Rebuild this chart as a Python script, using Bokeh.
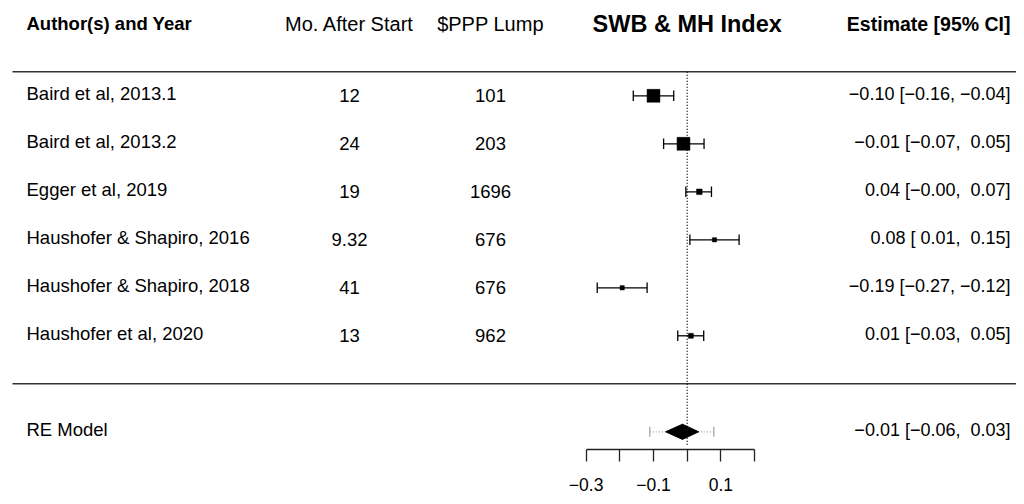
import numpy as np
from bokeh.plotting import figure
from bokeh.models import Range1d, FixedTicker, ColumnDataSource
from bokeh.core.properties import value
from bokeh.embed import file_html
from bokeh.resources import INLINE

# ---------------- data ----------------
studies = ["Baird et al, 2013.1", "Baird et al, 2013.2", "Egger et al, 2019",
           "Haushofer & Shapiro, 2016", "Haushofer & Shapiro, 2018",
           "Haushofer et al, 2020"]
months_after_start = [12, 24, 19, 9.32, 41, 13]
ppp_lump = [101, 203, 1696, 676, 676, 962]
estimate = [-0.10, -0.011, 0.036, 0.081, -0.193, 0.011]
ci_lower = [-0.16, -0.07, -0.004, 0.008, -0.267, -0.028]
ci_upper = [-0.04, 0.05, 0.072, 0.154, -0.119, 0.049]
weights = [3.0, 3.0, 1.3, 1.0, 1.0, 1.15]

re_label = "RE Model"
re_estimate = -0.014
re_ci_lower = -0.064
re_ci_upper = 0.034
re_pi_lower = -0.111
re_pi_upper = 0.079

header_author = "Author(s) and Year"
header_months = "Mo. After Start"
header_lump = "$PPP Lump"
header_title = "SWB & MH Index"
header_estimate = "Estimate [95% CI]"

tick_values = [-0.3, -0.2, -0.1, 0.0, 0.1, 0.2]
tick_labels = ["\u22120.3", "", "\u22120.1", "", "0.1", ""]

# ---------------- layout ----------------
W, H = 1016, 496
ZERO_PX = 686.7          # x of 0 inside the figure
UNIT_PX = 337.0          # pixels per 1.0 of effect size
ROW_PX = 48.0
AXIS_PX = 449            # y of the x-axis line
ROW0_PX = 383.3          # y (from top) of row 0


def px_x(px):
    return (px - ZERO_PX) / UNIT_PX


def px_rows(px):
    return px / ROW_PX


x_lo, x_hi = px_x(0), px_x(W)
y_hi = ROW0_PX / ROW_PX
y_lo = (ROW0_PX - H) / ROW_PX
axis_row = (ROW0_PX - AXIS_PX) / ROW_PX

FONT = value("Liberation Sans")


def fmt(v):
    return f"{v:5.2f}".replace("-", "\u2212").replace(" ", "\u00a0")


k = len(studies)
rows = np.arange(k, 0, -1).astype(float)
re_row = -1.0

p = figure(width=W, height=H, output_backend="svg", toolbar_location=None,
           x_range=Range1d(x_lo, x_hi), y_range=Range1d(y_lo, y_hi),
           y_axis_location=None, min_border_left=0, min_border_right=0,
           min_border_top=0, min_border_bottom=0)
p.outline_line_color = None
p.grid.visible = False
p.background_fill_color = "white"
p.border_fill_color = "white"

# x axis, drawn at a fixed location inside the frame
ax = p.xaxis[0]
ax.fixed_location = axis_row
ax.ticker = FixedTicker(ticks=tick_values, minor_ticks=[])
ax.major_label_overrides = {t: l for t, l in zip(tick_values, tick_labels)}
ax.bounds = (min(tick_values), max(tick_values))
ax.major_tick_out = 12
ax.major_tick_in = 0
ax.minor_tick_out = 0
ax.minor_tick_in = 0
ax.axis_line_width = 1.3
ax.major_tick_line_width = 1.3
ax.axis_line_color = "#222222"
ax.major_tick_line_color = "#222222"
ax.major_label_text_font = "Liberation Sans"
ax.major_label_text_font_size = "17.5px"
ax.major_label_text_color = "black"
ax.major_label_standoff = 16

# horizontal rules
rule_x0 = px_x(12)
p.segment(x0=[rule_x0, rule_x0], y0=[k + 0.5, 0.0], x1=[x_hi, x_hi], y1=[k + 0.5, 0.0],
          line_color="#333333", line_width=1.4)

# reference line at 0
p.segment(x0=[0], y0=[k + 0.5], x1=[0], y1=[axis_row + px_rows(3.5)],
          line_color="black", line_width=1.3, line_dash="1 2")

# study CIs
src = ColumnDataSource(dict(
    est=estimate, lo=ci_lower, hi=ci_upper, row=rows,
    cap_b=rows - px_rows(5.3), cap_t=rows + px_rows(5.3),
    size=[w * 4.3 for w in weights]))
p.segment(x0="lo", y0="row", x1="hi", y1="row", source=src, line_color="black", line_width=1.3)
p.segment(x0="lo", y0="cap_b", x1="lo", y1="cap_t", source=src, line_color="black", line_width=1.3)
p.segment(x0="hi", y0="cap_b", x1="hi", y1="cap_t", source=src, line_color="black", line_width=1.3)
p.scatter(x="est", y="row", size="size", marker="square", source=src,
          fill_color="black", line_color="black", line_width=0.5)

# RE model: prediction interval + diamond
pi_h = px_rows(5.0)
p.segment(x0=[re_pi_lower], y0=[re_row], x1=[re_pi_upper], y1=[re_row],
          line_color="#a0a0a0", line_width=1.2, line_dash="1 2")
p.segment(x0=[re_pi_lower, re_pi_upper], y0=[re_row - pi_h] * 2,
          x1=[re_pi_lower, re_pi_upper], y1=[re_row + pi_h] * 2,
          line_color="#a0a0a0", line_width=1.2)
dh = px_rows(7.6)
p.patch(x=[re_ci_lower, re_estimate, re_ci_upper, re_estimate],
        y=[re_row, re_row + dh, re_row, re_row - dh],
        fill_color="black", line_color="black", line_width=1)

# headers
hy = k + 1.5
p.text(x=[px_x(26)], y=[hy], text=[header_author], text_font=FONT,
       text_font_size=value("18.5px"), text_font_style="bold",
       text_align="left", text_baseline="middle", text_color="black")
p.text(x=[px_x(349), px_x(490)], y=[hy, hy], text=[header_months, header_lump],
       text_font=FONT, text_font_size=value("20px"),
       text_align="center", text_baseline="middle", text_color="black")
p.text(x=[0], y=[hy], text=[header_title], text_font=FONT,
       text_font_size=value("23.5px"), text_font_style="bold",
       text_align="center", text_baseline="middle", text_color="black")
p.text(x=[px_x(1010)], y=[hy], text=[header_estimate], text_font=FONT,
       text_font_size=value("19.5px"), text_font_style="bold",
       text_align="right", text_baseline="middle", text_color="black")

# row texts
name_rows = list(rows + px_rows(2.0)) + [re_row + px_rows(2.0)]
p.text(x=[px_x(26)] * (k + 1), y=name_rows, text=studies + [re_label],
       text_font=FONT, text_font_size=value("18.5px"),
       text_align="left", text_baseline="middle", text_color="black")
num_rows = list(rows)
p.text(x=[px_x(349)] * k, y=num_rows, text=[f"{m:g}" for m in months_after_start],
       text_font=FONT, text_font_size=value("18.5px"),
       text_align="center", text_baseline="middle", text_color="black")
p.text(x=[px_x(490)] * k, y=num_rows, text=[f"{v:g}" for v in ppp_lump],
       text_font=FONT, text_font_size=value("18.5px"),
       text_align="center", text_baseline="middle", text_color="black")
est_txt = [f"{fmt(e)} [{fmt(l)}, {fmt(h)}]" for e, l, h in zip(estimate, ci_lower, ci_upper)]
est_txt.append(f"{fmt(re_estimate)} [{fmt(re_ci_lower)}, {fmt(re_ci_upper)}]")
est_txt = [t.lstrip("\u00a0") for t in est_txt]
p.text(x=[px_x(1010)] * (k + 1), y=name_rows, text=est_txt,
       text_font=FONT, text_font_size=value("18px"),
       text_align="right", text_baseline="middle", text_color="black")

open("out.html", "w").write(file_html(p, INLINE))
